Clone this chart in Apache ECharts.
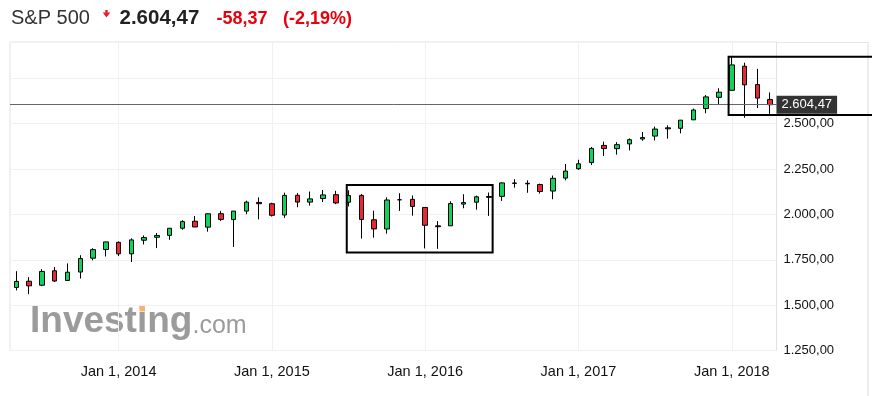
<!DOCTYPE html>
<html><head><meta charset="utf-8">
<script src="https://cdn.jsdelivr.net/npm/echarts@6/dist/echarts.min.js"></script>
<style>html,body{margin:0;padding:0;background:#fff}#c{width:872px;height:396px}</style>
</head><body><div id="c"></div>
<script>
// ---- data ----
const categories = ['2013-05','2013-06','2013-07','2013-08','2013-09','2013-10','2013-11','2013-12',
 '2014-01','2014-02','2014-03','2014-04','2014-05','2014-06','2014-07','2014-08','2014-09','2014-10','2014-11','2014-12',
 '2015-01','2015-02','2015-03','2015-04','2015-05','2015-06','2015-07','2015-08','2015-09','2015-10','2015-11','2015-12',
 '2016-01','2016-02','2016-03','2016-04','2016-05','2016-06','2016-07','2016-08','2016-09','2016-10','2016-11','2016-12',
 '2017-01','2017-02','2017-03','2017-04','2017-05','2017-06','2017-07','2017-08','2017-09','2017-10','2017-11','2017-12',
 '2018-01','2018-02','2018-03','2018-04'];
const opens = [1597.55,1631.71,1609.78,1689.42,1635.95,1682.41,1758.70,1806.55,
 1845.86,1782.68,1857.68,1873.96,1884.39,1923.87,1962.29,1929.80,2004.07,1971.44,2018.21,2065.78,
 2058.90,1996.67,2105.23,2067.63,2087.38,2108.64,2067.00,2104.49,1970.09,1919.65,2080.76,2082.93,
 2038.20,1936.94,1937.09,2056.62,2067.17,2093.94,2099.34,2173.15,2171.33,2164.33,2128.68,2200.17,
 2251.57,2285.59,2380.13,2362.34,2388.50,2415.65,2431.39,2477.10,2474.42,2521.20,2583.21,2645.10,
 2683.73,2816.45,2715.22,2633.45];
const closes = [1630.74,1606.28,1685.73,1632.97,1681.55,1756.54,1805.81,1848.36,
 1782.59,1859.45,1872.34,1883.95,1923.57,1960.23,1930.67,2003.37,1972.29,2018.05,2067.56,2058.90,
 1994.99,2104.50,2067.89,2085.51,2107.39,2063.11,2103.84,1972.18,1920.03,2079.36,2080.41,2043.94,
 1940.24,1932.23,2059.74,2065.30,2096.95,2098.86,2173.60,2170.95,2168.27,2126.15,2198.81,2238.83,
 2278.87,2363.64,2362.72,2384.20,2411.80,2423.41,2470.30,2471.65,2519.36,2575.26,2647.58,2673.61,
 2823.81,2713.83,2640.87,2604.47];
const lows = [1581.28,1560.33,1604.57,1627.47,1633.41,1646.47,1746.20,1767.99,
 1770.45,1737.92,1834.44,1814.36,1859.79,1915.98,1930.67,1904.78,1964.04,1820.66,2001.01,1972.56,
 1988.12,1980.90,2039.69,2048.38,2067.93,2056.32,2044.02,1867.01,1871.91,1893.70,2019.39,1993.26,
 1812.29,1810.10,1937.09,2033.80,2025.91,1991.68,2074.02,2147.58,2119.12,2114.72,2083.79,2187.44,
 2245.13,2271.65,2322.25,2328.95,2352.72,2405.70,2407.70,2417.35,2446.55,2520.40,2557.45,2605.52,
 2682.36,2532.69,2585.89,2553.80];
const highs = [1687.18,1654.19,1698.78,1709.67,1729.86,1775.22,1813.55,1849.44,
 1850.84,1867.92,1883.97,1897.28,1924.03,1968.17,1991.39,2005.04,2019.26,2018.19,2075.76,2093.55,
 2064.43,2119.59,2117.52,2125.92,2134.72,2129.87,2132.82,2112.66,2020.86,2094.32,2116.48,2104.27,
 2038.20,1962.96,2072.21,2111.05,2103.48,2120.55,2177.09,2193.81,2187.87,2169.60,2214.10,2277.53,
 2300.99,2371.54,2400.98,2398.16,2418.71,2453.82,2484.04,2490.87,2519.44,2582.98,2657.74,2694.97,
 2872.87,2835.96,2801.90,2672.08];
const yMin = 1250, yMax = 2950, yStep = 250;
const lastPrice = 2604.47;
const titleName = 'S&P 500';
const lastText = '2.604,47';
const changeText = '-58,37';
const pctText = '(-2,19%)';
// annotation boxes (category index units / price units)
const boxes = [
  {from: 25.86, to: 37.28, top: 2162, bottom: 1790},
  {from: 55.75, to: 70, top: 2869, bottom: 2548}
];

const FONT = '"Liberation Sans", Arial, Helvetica, sans-serif';
const GREEN = '#10d35b', RED = '#ec2633';

function deNum(v){
  const i = Math.floor(v), th = Math.floor(i/1000), r = i%1000;
  return (th ? th + '.' + String(r).padStart(3,'0') : String(r)) + ',00';
}
const isJan = (i, v) => String(v).slice(5) === '01';

const chart = echarts.init(document.getElementById('c'), null, {renderer:'canvas'});
const candles = categories.map((c, i) => [opens[i], closes[i], lows[i], highs[i]]);

chart.setOption({
  animation: false,
  textStyle: {fontFamily: FONT},
  grid: {left: 10, right: 95.5, top: 42, bottom: 45.5, show: true,
         borderColor: '#e2e2e2', borderWidth: 1, backgroundColor: 'transparent'},
  xAxis: {
    type: 'category', data: categories, boundaryGap: true,
    axisLine: {show: false}, axisTick: {show: false},
    axisLabel: {interval: isJan, color: '#111', fontSize: 14.5, margin: 14, fontFamily: FONT,
      formatter: v => 'Jan 1, ' + v.slice(0,4)},
    splitLine: {show: true, interval: isJan, alignWithLabel: true, lineStyle: {color: '#f1f1f1', width: 1}}
  },
  yAxis: {
    type: 'value', position: 'right', min: yMin, max: yMax, interval: yStep,
    axisLine: {show: false}, axisTick: {show: false},
    axisLabel: {color: '#111', fontSize: 13, margin: 7, fontFamily: FONT,
      formatter: v => (v % yStep === 0 && v !== 2750) ? deNum(v) : ''},
    splitLine: {show: true, lineStyle: {color: '#f1f1f1', width: 1}}
  },
  series: [{
    type: 'candlestick', data: candles, barWidth: 5,
    itemStyle: {color: GREEN, color0: RED, borderColor: '#000', borderColor0: '#000',
                borderColorDoji: '#000', borderWidth: 1},
    emphasis: {disabled: true},
    markLine: {
      silent: true, symbol: ['none','none'], animation: false,
      lineStyle: {color: '#666', width: 1, type: 'solid'},
      emphasis: {disabled: true},
      label: {show: true, position: 'end', distance: 0, formatter: lastText,
              color: '#fff', backgroundColor: '#333', padding: [3,5,2,5], fontSize: 13, fontFamily: FONT},
      data: [{yAxis: lastPrice}]
    }
  }]
});

// positions from the chart's own axes
const x0 = chart.convertToPixel({xAxisIndex: 0}, 0);
const band = chart.convertToPixel({xAxisIndex: 0}, 1) - x0;
const xAt = f => x0 + f * band;
const yAt = v => chart.convertToPixel({yAxisIndex: 0}, v);

const graphics = [
  // header
  {type: 'text', left: 11, top: 8, style: {text: titleName, fill: '#333', font: '20px ' + FONT}},
  {type: 'polygon', shape: {points: [[105.3,10],[107.7,10],[107.7,12.5],[110.3,12.5],[106.5,17.5],[102.7,12.5],[105.3,12.5]]},
   style: {fill: '#e8202a'}},
  {type: 'text', left: 119.5, top: 8, style: {text: lastText, fill: '#222', font: 'bold 20.5px ' + FONT}},
  {type: 'text', left: 216.5, top: 10, style: {text: changeText, fill: '#e8000d', font: 'bold 18px ' + FONT}},
  {type: 'text', left: 283, top: 10, style: {text: pctText, fill: '#e8000d', font: 'bold 18px ' + FONT}},
  // watermark
  {type: 'text', z: -1, x: 30, y: 303, style: {text: 'Investing', fill: '#9b9b9b', font: 'bold 37px ' + FONT}},
  {type: 'text', z: -1, x: 192.5, y: 314, style: {text: '.com', fill: '#9b9b9b', font: '25px ' + FONT}},
  {type: 'rect', z: -1, shape: {x: 139.5, y: 305.5, width: 5.5, height: 6}, style: {fill: '#f9b26e'}},
  // outer frame lines
  {type: 'line', shape: {x1: 776.5, y1: 42.5, x2: 868, y2: 42.5}, style: {stroke: '#e6e6e6', lineWidth: 1}},
  {type: 'line', shape: {x1: 868, y1: 42, x2: 868, y2: 396}, style: {stroke: '#dcdcdc', lineWidth: 1}}
];
boxes.forEach(b => {
  const xl = xAt(b.from), xr = xAt(b.to), yt = yAt(b.top), yb = yAt(b.bottom);
  graphics.push({type: 'rect', z: 100, shape: {x: xl, y: yt, width: xr - xl, height: yb - yt},
    style: {fill: 'none', stroke: '#000', lineWidth: 2}});
});
chart.setOption({graphic: graphics});
</script>
</body></html>
